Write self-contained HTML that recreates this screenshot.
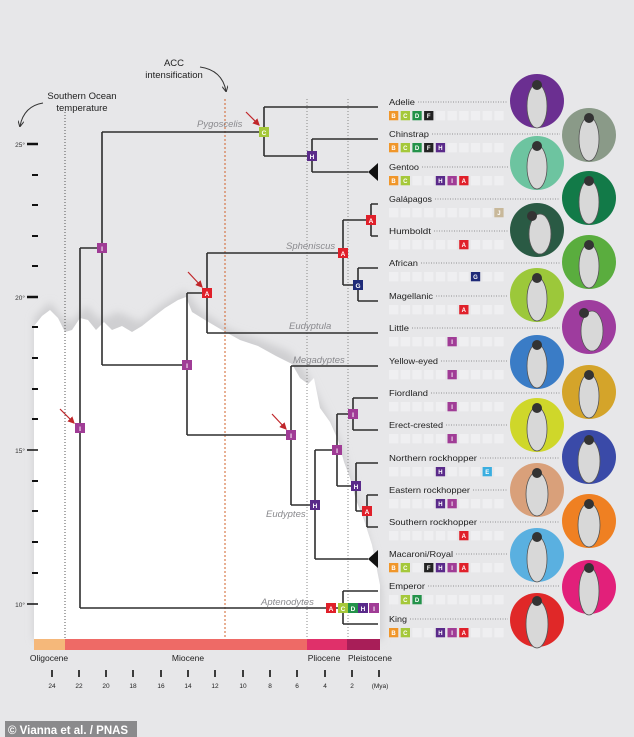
<!DOCTYPE html>
<html><head><meta charset="utf-8"><style>
html,body{margin:0;padding:0;background:#e7e7e9;}
svg{display:block;font-family:"Liberation Sans",sans-serif;}
</style></head><body>
<svg width="634" height="737" viewBox="0 0 634 737" xmlns="http://www.w3.org/2000/svg">
<defs>
<filter id="bl" x="-10%" y="-10%" width="120%" height="120%"><feGaussianBlur stdDeviation="4"/></filter>
<marker id="ar" markerWidth="6" markerHeight="6" refX="5" refY="3" orient="auto"><path d="M0,0 L6,3 L0,6" fill="none" stroke="#333" stroke-width="1"/></marker>
<marker id="rar" markerWidth="6" markerHeight="6" refX="5" refY="3" orient="auto"><path d="M0,0 L6,3 L0,6 z" fill="#c0262a"/></marker>
<pattern id="sl" patternUnits="userSpaceOnUse" x="389" y="0" width="11.7" height="1"><rect x="0" y="0" width="9.3" height="1" fill="#efeff1"/></pattern>
</defs>
<rect width="634" height="737" fill="#e7e7e9"/>
<path filter="url(#bl)" fill="#cfcfd1" d="M34,318 L50,302 L62,318 L72,322 L86,306 L100,320 L118,312 L140,322 L160,306 L185,290 L200,310 L230,330 L260,340 L290,352 L305,370 L320,400 L340,440 L358,500 L372,550 L382,590 L382,640 L34,640 Z"/>
<path fill="#ffffff" d="M34,326 L42,316 L50,310 L58,318 L65,332 L72,330 L80,318 L88,320 L96,330 L104,322 L112,330 L122,326 L132,332 L142,326 L152,318 L165,308 L178,300 L186,297 L192,312 L205,320 L222,330 L240,340 L258,346 L276,356 L292,364 L300,378 L308,384 L314,378 L320,408 L330,422 L338,440 L344,462 L350,478 L356,500 L364,520 L372,545 L380,585 L380,639 L34,639 Z"/>
<g stroke="#111">
<line x1="27" y1="144" x2="38" y2="144" stroke-width="2.5"/>
<line x1="27" y1="297" x2="38" y2="297" stroke-width="2.5"/>
<line x1="27" y1="450" x2="38" y2="450" stroke-width="1.5"/>
<line x1="27" y1="604" x2="38" y2="604" stroke-width="1.5"/>
<g stroke-width="2">
<line x1="32" y1="175" x2="38" y2="175"/><line x1="32" y1="205" x2="38" y2="205"/><line x1="32" y1="236" x2="38" y2="236"/><line x1="32" y1="266" x2="38" y2="266"/>
<line x1="32" y1="327" x2="38" y2="327"/><line x1="32" y1="358" x2="38" y2="358"/><line x1="32" y1="389" x2="38" y2="389"/><line x1="32" y1="419" x2="38" y2="419"/>
<line x1="32" y1="481" x2="38" y2="481"/><line x1="32" y1="511" x2="38" y2="511"/><line x1="32" y1="542" x2="38" y2="542"/><line x1="32" y1="573" x2="38" y2="573"/>
</g></g>
<g font-size="6.5" fill="#333" text-anchor="end">
<text x="25" y="147">25°</text><text x="25" y="300">20°</text><text x="25" y="453">15°</text><text x="25" y="607">10°</text>
</g>
<g stroke-width="1" fill="none">
<line x1="65" y1="112" x2="65" y2="639" stroke="#555" stroke-dasharray="1,2"/>
<line x1="225" y1="99" x2="225" y2="639" stroke="#d0602a" stroke-dasharray="2,2"/>
<line x1="307" y1="99" x2="307" y2="639" stroke="#888" stroke-dasharray="1,2"/>
<line x1="348" y1="99" x2="348" y2="639" stroke="#888" stroke-dasharray="1,2"/>
</g>
<g font-size="9.5" fill="#222" text-anchor="middle">
<text x="174" y="66">ACC</text><text x="174" y="78">intensification</text>
<text x="82" y="99">Southern Ocean</text><text x="82" y="111">temperature</text>
</g>
<path d="M200,67 Q222,70 226,91" fill="none" stroke="#333" stroke-width="1" marker-end="url(#ar)"/>
<path d="M43,103 Q24,106 20,126" fill="none" stroke="#333" stroke-width="1" marker-end="url(#ar)"/>
<g stroke="#2e2e2e" stroke-width="1.6" fill="none">
<path d="M80,248 V608 M80,248 H102 M102,132 V365 M102,132 H264 M264,107 V156 M264,107 H378 M264,156 H312 M312,139 V172 M312,139 H378 M312,172 H368"/>
<path d="M102,365 H187 M187,293 V435 M187,293 H207 M207,253 V333 M207,333 H378 M207,253 H343 M343,220 V285 M343,220 H371 M371,204 V236 M371,204 H378 M371,236 H378 M343,285 H358 M358,268 V301 M358,268 H378 M358,301 H378"/>
<path d="M187,435 H291 M291,366 V505 M291,366 H378 M291,505 H315 M315,450 V559 M315,559 H368 M315,450 H337 M337,414 V486 M337,414 H353 M353,398 V430 M353,398 H378 M353,430 H378 M337,486 H356 M356,463 V511 M356,463 H378 M356,511 H367 M367,495 V527 M367,495 H378 M367,527 H378"/>
<path d="M80,608 H343 M343,591 V624 M343,591 H378 M343,624 H378"/>
</g>
<path d="M368,172 L378,163 L378,181 Z" fill="#111"/>
<path d="M368,559 L378,550 L378,568 Z" fill="#111"/>
<g font-size="9.5" font-style="italic" fill="#8a8a8e">
<text x="197" y="127">Pygoscelis</text>
<text x="286" y="249">Spheniscus</text>
<text x="289" y="329">Eudyptula</text>
<text x="293" y="363">Megadyptes</text>
<text x="266" y="517">Eudyptes</text>
<text x="261" y="605">Aptenodytes</text>
</g>
<g stroke="#c0262a" stroke-width="1.2" marker-end="url(#rar)">
<line x1="246" y1="112" x2="259" y2="125"/>
<line x1="188" y1="272" x2="202" y2="287"/>
<line x1="272" y1="414" x2="286" y2="429"/>
<line x1="60" y1="409" x2="74" y2="423"/>
</g>
<g font-size="6.5" font-weight="bold" fill="#fff" text-anchor="middle">
<rect x="259" y="127" width="10" height="10" fill="#a5c83a"/><text x="264" y="135">C</text>
<rect x="307" y="151" width="10" height="10" fill="#5a2a8a"/><text x="312" y="159">H</text>
<rect x="97" y="243" width="10" height="10" fill="#a03c96"/><text x="102" y="251">I</text>
<rect x="202" y="288" width="10" height="10" fill="#e0202a"/><text x="207" y="296">A</text>
<rect x="338" y="248" width="10" height="10" fill="#e0202a"/><text x="343" y="256">A</text>
<rect x="366" y="215" width="10" height="10" fill="#e0202a"/><text x="371" y="223">A</text>
<rect x="353" y="280" width="10" height="10" fill="#1e2a78"/><text x="358" y="288">G</text>
<rect x="182" y="360" width="10" height="10" fill="#a03c96"/><text x="187" y="368">I</text>
<rect x="75" y="423" width="10" height="10" fill="#a03c96"/><text x="80" y="431">I</text>
<rect x="286" y="430" width="10" height="10" fill="#a03c96"/><text x="291" y="438">I</text>
<rect x="310" y="500" width="10" height="10" fill="#5a2a8a"/><text x="315" y="508">H</text>
<rect x="332" y="445" width="10" height="10" fill="#a03c96"/><text x="337" y="453">I</text>
<rect x="348" y="409" width="10" height="10" fill="#a03c96"/><text x="353" y="417">I</text>
<rect x="351" y="481" width="10" height="10" fill="#5a2a8a"/><text x="356" y="489">H</text>
<rect x="362" y="506" width="10" height="10" fill="#e0202a"/><text x="367" y="514">A</text>
<rect x="326" y="603" width="10" height="10" fill="#e0202a"/><text x="331" y="611">A</text>
<rect x="338" y="603" width="10" height="10" fill="#a5c83a"/><text x="343" y="611">C</text>
<rect x="348" y="603" width="10" height="10" fill="#23924a"/><text x="353" y="611">D</text>
<rect x="358" y="603" width="10" height="10" fill="#5a2a8a"/><text x="363" y="611">H</text>
<rect x="369" y="603" width="10" height="10" fill="#a03c96"/><text x="374" y="611">I</text>
</g>
<rect x="34" y="639" width="31" height="11" fill="#f5b87a"/>
<rect x="65" y="639" width="242" height="11" fill="#ee6a66"/>
<rect x="307" y="639" width="40" height="11" fill="#e0306a"/>
<rect x="347" y="639" width="33" height="11" fill="#a81e58"/>
<g font-size="8.5" fill="#222" text-anchor="middle">
<text x="49" y="661">Oligocene</text><text x="188" y="661">Miocene</text><text x="324" y="661">Pliocene</text><text x="370" y="661">Pleistocene</text>
</g>
<g stroke="#111" stroke-width="1.6">
<line x1="52" y1="670" x2="52" y2="677"/><line x1="79" y1="670" x2="79" y2="677"/><line x1="106" y1="670" x2="106" y2="677"/><line x1="133" y1="670" x2="133" y2="677"/><line x1="161" y1="670" x2="161" y2="677"/><line x1="188" y1="670" x2="188" y2="677"/><line x1="215" y1="670" x2="215" y2="677"/><line x1="243" y1="670" x2="243" y2="677"/><line x1="270" y1="670" x2="270" y2="677"/><line x1="297" y1="670" x2="297" y2="677"/><line x1="325" y1="670" x2="325" y2="677"/><line x1="352" y1="670" x2="352" y2="677"/><line x1="379" y1="670" x2="379" y2="677"/>
</g>
<g font-size="6.5" fill="#222" text-anchor="middle">
<text x="52" y="688">24</text><text x="79" y="688">22</text><text x="106" y="688">20</text><text x="133" y="688">18</text><text x="161" y="688">16</text><text x="188" y="688">14</text><text x="215" y="688">12</text><text x="243" y="688">10</text><text x="270" y="688">8</text><text x="297" y="688">6</text><text x="325" y="688">4</text><text x="352" y="688">2</text><text x="380" y="688">(Mya)</text>
</g>
<rect x="5" y="721" width="132" height="16" fill="#8a8a8c"/>
<text x="8" y="734" font-size="11.5" font-weight="bold" fill="#fff">© Vianna et al. / PNAS</text>

<g>
<circle cx="537" cy="101" r="27" fill="#6b2f91"/>
<circle cx="537" cy="163" r="27" fill="#6dc4a0"/>
<circle cx="537" cy="230" r="27" fill="#2a5a44"/>
<circle cx="537" cy="295" r="27" fill="#9cc83a"/>
<circle cx="537" cy="362" r="27" fill="#3a7cc6"/>
<circle cx="537" cy="425" r="27" fill="#cfd72a"/>
<circle cx="537" cy="490" r="27" fill="#d9a07a"/>
<circle cx="537" cy="555" r="27" fill="#5ab0e0"/>
<circle cx="537" cy="620" r="27" fill="#e02828"/>
<circle cx="589" cy="135" r="27" fill="#8a9a88"/>
<circle cx="589" cy="198" r="27" fill="#127a48"/>
<circle cx="589" cy="262" r="27" fill="#5aad3e"/>
<circle cx="589" cy="327" r="27" fill="#9e3c9e"/>
<circle cx="589" cy="392" r="27" fill="#d4a42a"/>
<circle cx="589" cy="457" r="27" fill="#3a4aa8"/>
<circle cx="589" cy="521" r="27" fill="#ef8022"/>
<circle cx="589" cy="587" r="27" fill="#e2207a"/>
</g>
<g fill="#d8d8d8" stroke="#555" stroke-width="0.8">
<ellipse cx="537" cy="106" rx="10" ry="22"/><ellipse cx="537" cy="167" rx="10" ry="22"/><ellipse cx="540" cy="234" rx="11" ry="20"/><ellipse cx="537" cy="299" rx="10" ry="22"/><ellipse cx="537" cy="366" rx="10" ry="22"/><ellipse cx="537" cy="429" rx="10" ry="22"/><ellipse cx="537" cy="494" rx="11" ry="22"/><ellipse cx="537" cy="559" rx="10" ry="23"/><ellipse cx="537" cy="624" rx="11" ry="24"/>
<ellipse cx="589" cy="139" rx="10" ry="22"/><ellipse cx="589" cy="202" rx="10" ry="22"/><ellipse cx="589" cy="266" rx="10" ry="22"/><ellipse cx="592" cy="331" rx="11" ry="20"/><ellipse cx="589" cy="396" rx="10" ry="22"/><ellipse cx="589" cy="461" rx="11" ry="22"/><ellipse cx="589" cy="525" rx="11" ry="22"/><ellipse cx="589" cy="591" rx="10" ry="24"/>
</g>
<g fill="#333">
<circle cx="537" cy="85" r="5"/><circle cx="537" cy="146" r="5"/><circle cx="532" cy="216" r="5"/><circle cx="537" cy="278" r="5"/><circle cx="537" cy="345" r="5"/><circle cx="537" cy="408" r="5"/><circle cx="537" cy="473" r="5"/><circle cx="537" cy="537" r="5"/><circle cx="537" cy="601" r="5"/>
<circle cx="589" cy="118" r="5"/><circle cx="589" cy="181" r="5"/><circle cx="589" cy="245" r="5"/><circle cx="584" cy="313" r="5"/><circle cx="589" cy="375" r="5"/><circle cx="589" cy="440" r="5"/><circle cx="589" cy="504" r="5"/><circle cx="589" cy="568" r="5"/>
</g>

<g font-size="8.5" fill="#222">
<text x="389" y="105" textLength="26" lengthAdjust="spacingAndGlyphs">Adelie</text>
<text x="389" y="137" textLength="40" lengthAdjust="spacingAndGlyphs">Chinstrap</text>
<text x="389" y="170" textLength="30" lengthAdjust="spacingAndGlyphs">Gentoo</text>
<text x="389" y="202" textLength="43" lengthAdjust="spacingAndGlyphs">Galápagos</text>
<text x="389" y="234" textLength="42" lengthAdjust="spacingAndGlyphs">Humboldt</text>
<text x="389" y="266" textLength="29" lengthAdjust="spacingAndGlyphs">African</text>
<text x="389" y="299" textLength="44" lengthAdjust="spacingAndGlyphs">Magellanic</text>
<text x="389" y="331" textLength="20" lengthAdjust="spacingAndGlyphs">Little</text>
<text x="389" y="364" textLength="49" lengthAdjust="spacingAndGlyphs">Yellow-eyed</text>
<text x="389" y="396" textLength="39" lengthAdjust="spacingAndGlyphs">Fiordland</text>
<text x="389" y="428" textLength="54" lengthAdjust="spacingAndGlyphs">Erect-crested</text>
<text x="389" y="461" textLength="88" lengthAdjust="spacingAndGlyphs">Northern rockhopper</text>
<text x="389" y="493" textLength="81" lengthAdjust="spacingAndGlyphs">Eastern rockhopper</text>
<text x="389" y="525" textLength="88" lengthAdjust="spacingAndGlyphs">Southern rockhopper</text>
<text x="389" y="557" textLength="64" lengthAdjust="spacingAndGlyphs">Macaroni/Royal</text>
<text x="389" y="589" textLength="36" lengthAdjust="spacingAndGlyphs">Emperor</text>
<text x="389" y="622" textLength="18" lengthAdjust="spacingAndGlyphs">King</text>
</g>
<g stroke="#777" stroke-width="0.8" stroke-dasharray="1,1.5">
<line x1="418" y1="102" x2="508" y2="102"/><line x1="432" y1="134" x2="560" y2="134"/><line x1="422" y1="167" x2="508" y2="167"/><line x1="435" y1="199" x2="560" y2="199"/>
<line x1="434" y1="231" x2="508" y2="231"/><line x1="421" y1="263" x2="560" y2="263"/><line x1="436" y1="296" x2="508" y2="296"/><line x1="412" y1="328" x2="560" y2="328"/>
<line x1="441" y1="361" x2="508" y2="361"/><line x1="431" y1="393" x2="560" y2="393"/><line x1="446" y1="425" x2="508" y2="425"/><line x1="480" y1="458" x2="560" y2="458"/>
<line x1="473" y1="490" x2="508" y2="490"/><line x1="480" y1="522" x2="560" y2="522"/><line x1="456" y1="554" x2="508" y2="554"/><line x1="428" y1="586" x2="560" y2="586"/><line x1="410" y1="619" x2="508" y2="619"/>
</g>
<!-- empty slot rows -->
<g fill="url(#sl)">
<rect x="389" y="111" width="115" height="9.3"/><rect x="389" y="143" width="115" height="9.3"/><rect x="389" y="176" width="115" height="9.3"/><rect x="389" y="208" width="115" height="9.3"/>
<rect x="389" y="240" width="115" height="9.3"/><rect x="389" y="272" width="115" height="9.3"/><rect x="389" y="305" width="115" height="9.3"/><rect x="389" y="337" width="115" height="9.3"/>
<rect x="389" y="370" width="115" height="9.3"/><rect x="389" y="402" width="115" height="9.3"/><rect x="389" y="434" width="115" height="9.3"/><rect x="389" y="467" width="115" height="9.3"/>
<rect x="389" y="499" width="115" height="9.3"/><rect x="389" y="531" width="115" height="9.3"/><rect x="389" y="563" width="115" height="9.3"/><rect x="389" y="595" width="115" height="9.3"/><rect x="389" y="628" width="115" height="9.3"/>
</g>
<!-- colored badges: slot x: 389,400.7,412.4,424.1,435.8,447.5,459.2,470.9,482.6,494.3 -->
<g font-size="6" font-weight="bold" fill="#fff" text-anchor="middle">
<!-- Adelie -->
<rect x="389" y="111" width="9.3" height="9.3" fill="#f0962a"/><text x="393.6" y="118">B</text>
<rect x="400.7" y="111" width="9.3" height="9.3" fill="#a5c83a"/><text x="405.3" y="118">C</text>
<rect x="412.4" y="111" width="9.3" height="9.3" fill="#23924a"/><text x="417" y="118">D</text>
<rect x="424.1" y="111" width="9.3" height="9.3" fill="#222"/><text x="428.7" y="118">F</text>
<!-- Chinstrap -->
<rect x="389" y="143" width="9.3" height="9.3" fill="#f0962a"/><text x="393.6" y="150">B</text>
<rect x="400.7" y="143" width="9.3" height="9.3" fill="#a5c83a"/><text x="405.3" y="150">C</text>
<rect x="412.4" y="143" width="9.3" height="9.3" fill="#23924a"/><text x="417" y="150">D</text>
<rect x="424.1" y="143" width="9.3" height="9.3" fill="#222"/><text x="428.7" y="150">F</text>
<rect x="435.8" y="143" width="9.3" height="9.3" fill="#5a2a8a"/><text x="440.4" y="150">H</text>
<!-- Gentoo -->
<rect x="389" y="176" width="9.3" height="9.3" fill="#f0962a"/><text x="393.6" y="183">B</text>
<rect x="400.7" y="176" width="9.3" height="9.3" fill="#a5c83a"/><text x="405.3" y="183">C</text>
<rect x="435.8" y="176" width="9.3" height="9.3" fill="#5a2a8a"/><text x="440.4" y="183">H</text>
<rect x="447.5" y="176" width="9.3" height="9.3" fill="#a03c96"/><text x="452.1" y="183">I</text>
<rect x="459.2" y="176" width="9.3" height="9.3" fill="#e0202a"/><text x="463.8" y="183">A</text>
<!-- Galapagos -->
<rect x="494.3" y="208" width="9.3" height="9.3" fill="#c8b89a"/><text x="498.9" y="215">J</text>
<!-- Humboldt -->
<rect x="459.2" y="240" width="9.3" height="9.3" fill="#e0202a"/><text x="463.8" y="247">A</text>
<!-- African -->
<rect x="470.9" y="272" width="9.3" height="9.3" fill="#1e2a78"/><text x="475.5" y="279">G</text>
<!-- Magellanic -->
<rect x="459.2" y="305" width="9.3" height="9.3" fill="#e0202a"/><text x="463.8" y="312">A</text>
<!-- Little, Yellow-eyed, Fiordland, Erect -->
<rect x="447.5" y="337" width="9.3" height="9.3" fill="#a03c96"/><text x="452.1" y="344">I</text>
<rect x="447.5" y="370" width="9.3" height="9.3" fill="#a03c96"/><text x="452.1" y="377">I</text>
<rect x="447.5" y="402" width="9.3" height="9.3" fill="#a03c96"/><text x="452.1" y="409">I</text>
<rect x="447.5" y="434" width="9.3" height="9.3" fill="#a03c96"/><text x="452.1" y="441">I</text>
<!-- Northern -->
<rect x="435.8" y="467" width="9.3" height="9.3" fill="#5a2a8a"/><text x="440.4" y="474">H</text>
<rect x="482.6" y="467" width="9.3" height="9.3" fill="#3aaee0"/><text x="487.2" y="474">E</text>
<!-- Eastern -->
<rect x="435.8" y="499" width="9.3" height="9.3" fill="#5a2a8a"/><text x="440.4" y="506">H</text>
<rect x="447.5" y="499" width="9.3" height="9.3" fill="#a03c96"/><text x="452.1" y="506">I</text>
<!-- Southern -->
<rect x="459.2" y="531" width="9.3" height="9.3" fill="#e0202a"/><text x="463.8" y="538">A</text>
<!-- Macaroni -->
<rect x="389" y="563" width="9.3" height="9.3" fill="#f0962a"/><text x="393.6" y="570">B</text>
<rect x="400.7" y="563" width="9.3" height="9.3" fill="#a5c83a"/><text x="405.3" y="570">C</text>
<rect x="424.1" y="563" width="9.3" height="9.3" fill="#222"/><text x="428.7" y="570">F</text>
<rect x="435.8" y="563" width="9.3" height="9.3" fill="#5a2a8a"/><text x="440.4" y="570">H</text>
<rect x="447.5" y="563" width="9.3" height="9.3" fill="#a03c96"/><text x="452.1" y="570">I</text>
<rect x="459.2" y="563" width="9.3" height="9.3" fill="#e0202a"/><text x="463.8" y="570">A</text>
<!-- Emperor -->
<rect x="400.7" y="595" width="9.3" height="9.3" fill="#a5c83a"/><text x="405.3" y="602">C</text>
<rect x="412.4" y="595" width="9.3" height="9.3" fill="#23924a"/><text x="417" y="602">D</text>
<!-- King -->
<rect x="389" y="628" width="9.3" height="9.3" fill="#f0962a"/><text x="393.6" y="635">B</text>
<rect x="400.7" y="628" width="9.3" height="9.3" fill="#a5c83a"/><text x="405.3" y="635">C</text>
<rect x="435.8" y="628" width="9.3" height="9.3" fill="#5a2a8a"/><text x="440.4" y="635">H</text>
<rect x="447.5" y="628" width="9.3" height="9.3" fill="#a03c96"/><text x="452.1" y="635">I</text>
<rect x="459.2" y="628" width="9.3" height="9.3" fill="#e0202a"/><text x="463.8" y="635">A</text>
</g>
</svg>
</body></html>
